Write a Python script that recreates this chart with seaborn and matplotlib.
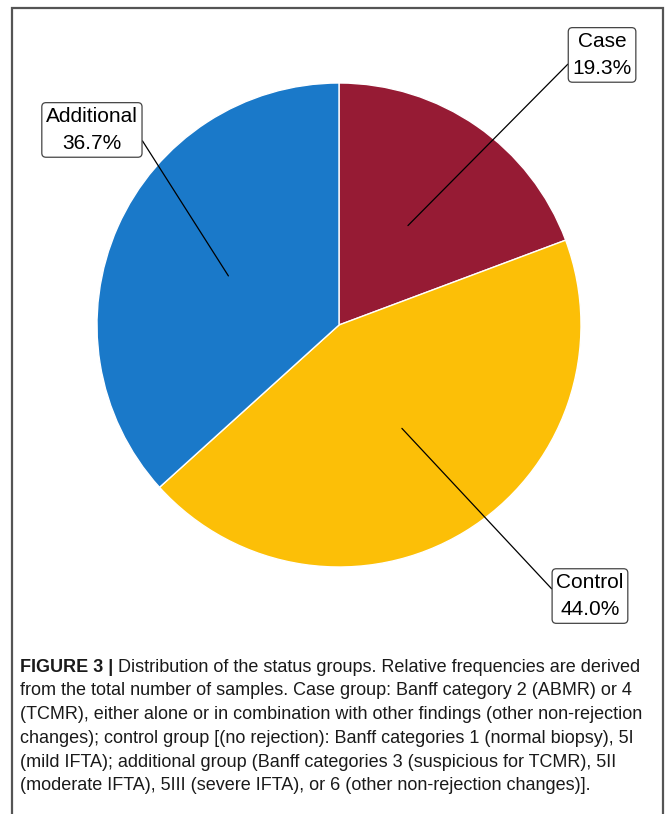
import matplotlib
matplotlib.use("Agg")
import matplotlib.pyplot as plt
import numpy as np
import seaborn as sns

# Status groups and their relative frequencies (%)
groups = ["Case", "Control", "Additional"]
shares = [19.3, 44.0, 36.7]
colors = ["#961B34", "#FCBF07", "#1A79C9"]

caption_head = "FIGURE 3 |"
caption_lines = [
    " Distribution of the status groups. Relative frequencies are derived",
    "from the total number of samples. Case group: Banff category 2 (ABMR) or 4",
    "(TCMR), either alone or in combination with other findings (other non-rejection",
    "changes); control group [(no rejection): Banff categories 1 (normal biopsy), 5I",
    "(mild IFTA); additional group (Banff categories 3 (suspicious for TCMR), 5II",
    "(moderate IFTA), 5III (severe IFTA), or 6 (other non-rejection changes)].",
]

sns.set_theme(style="white")
plt.rcParams["font.family"] = ["Liberation Sans", "DejaVu Sans"]

W, H = 667, 814
fig = plt.figure(figsize=(W / 100, H / 100), dpi=100)

# Outer frame (open at the bottom)
frame_ax = fig.add_axes([0, 0, 1, 1])
frame_ax.set_xlim(0, W)
frame_ax.set_ylim(H, 0)
frame_ax.axis("off")
frame_ax.plot([12, 12, 663, 663], [H + 5, 8, 8, H + 5], color="#555555", lw=1.6,
              solid_joinstyle="miter")

# Pie axes: 242 px per data unit, centre at pixel (339, 325)
cx, cy, r = 339, 325, 242
px0, px1, py0, py1 = 20, 660, 20, 630
ax = fig.add_axes([px0 / W, (H - py1) / H, (px1 - px0) / W, (py1 - py0) / H])
wedges, _ = ax.pie(shares, colors=colors, startangle=90, counterclock=False,
                   wedgeprops=dict(edgecolor="white", linewidth=1.0))
ax.set_aspect("auto")
ax.set_xlim((px0 - cx) / r, (px1 - cx) / r)
ax.set_ylim((cy - py1) / r, (cy - py0) / r)
ax.axis("off")

# Label boxes (data coords) and the edge point where the leader line leaves the box
label_pos = {"Case": (1.087, 1.116), "Control": (1.037, -1.12), "Additional": (-1.021, 0.806)}
relpos = {"Case": (0.0, 0.4), "Control": (0.0, 0.55), "Additional": (1.0, 0.42)}

for w, g, s in zip(wedges, groups, shares):
    mid = np.deg2rad((w.theta1 + w.theta2) / 2)
    pt = (0.5 * np.cos(mid), 0.5 * np.sin(mid))
    ax.annotate(f"{g}\n{s:.1f}%", xy=pt, xytext=label_pos[g], ha="center", va="center",
                fontsize=15, linespacing=1.55, color="black",
                bbox=dict(boxstyle="round,pad=0.2,rounding_size=0.2", fc="white",
                          ec="#444444", lw=0.9),
                arrowprops=dict(arrowstyle="-", color="black", lw=0.9,
                                relpos=relpos[g], shrinkA=0, shrinkB=0))

# Caption
cap_family = ["Liberation Sans", "DejaVu Sans"]
cap_size = 13.0
x0, y0, dy = 20, 667, 23.8
head = frame_ax.text(x0, y0, caption_head, fontsize=cap_size, fontweight="bold",
                     family=cap_family, va="center", ha="left", color="#1a1a1a")
fig.canvas.draw()
head_w = head.get_window_extent().width
for i, line in enumerate(caption_lines):
    xx = x0 + head_w if i == 0 else x0
    frame_ax.text(xx, y0 + i * dy, line, fontsize=cap_size, family=cap_family,
                  va="center", ha="left", color="#1a1a1a")

fig.savefig("out.png", dpi=100)
